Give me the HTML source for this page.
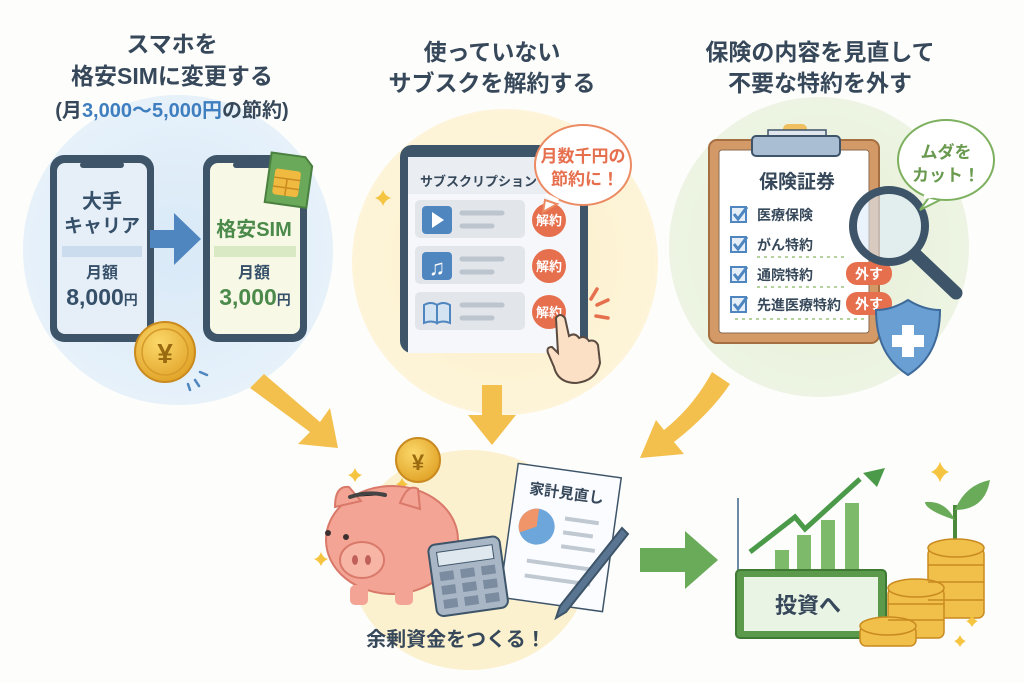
<!DOCTYPE html>
<html><head><meta charset="utf-8"><style>
html,body{margin:0;padding:0;background:#fdfdfb}
svg{display:block}
text{font-family:"Liberation Sans","Noto Sans CJK JP",sans-serif;font-weight:bold}
</style></head><body>
<svg width="1024" height="683" viewBox="0 0 1024 683" xmlns="http://www.w3.org/2000/svg">
<defs>
<radialGradient id="gb" cx="50%" cy="50%" r="50%"><stop offset="0" stop-color="#d9e9f7"/><stop offset="1" stop-color="#e6f1fa"/></radialGradient>
<radialGradient id="gy" cx="50%" cy="50%" r="50%"><stop offset="0" stop-color="#fcefc8"/><stop offset="1" stop-color="#fdf4d9"/></radialGradient>
<radialGradient id="gg" cx="50%" cy="50%" r="50%"><stop offset="0" stop-color="#e6f0d6"/><stop offset="1" stop-color="#edf4e3"/></radialGradient>
<radialGradient id="coin" cx="40%" cy="35%" r="65%"><stop offset="0" stop-color="#fbd86a"/><stop offset="1" stop-color="#e2a52a"/></radialGradient>
</defs>
<rect width="1024" height="683" fill="#fdfdfb"/>
<circle cx="178" cy="250" r="155" fill="url(#gb)"/>
<circle cx="505" cy="262" r="153" fill="url(#gy)"/>
<circle cx="819" cy="247" r="150" fill="url(#gg)"/>
<ellipse cx="470" cy="560" rx="120" ry="110" fill="#fcf1cf"/>

<g fill="#36485a" text-anchor="middle">
<text x="172" y="52" font-size="23">スマホを</text>
<text x="172" y="84" font-size="23">格安SIMに変更する</text>
<text x="172" y="117" font-size="20">(月<tspan fill="#3f7fbf">3,000～5,000</tspan><tspan fill="#3f7fbf">円</tspan>の節約)</text>
<text x="492" y="60" font-size="23">使っていない</text>
<text x="492" y="91" font-size="23">サブスクを解約する</text>
<text x="820" y="60" font-size="23">保険の内容を見直して</text>
<text x="820" y="91" font-size="23">不要な特約を外す</text>
</g>

<rect x="50" y="155" width="104" height="187" rx="14" fill="#3e5569"/>
<rect x="57" y="163" width="90" height="171" rx="8" fill="#e6eff8"/>
<rect x="80" y="162" width="44" height="6" rx="3" fill="#3e5569"/>
<rect x="62" y="246" width="80" height="11" fill="#cadcee"/>
<g fill="#36506a" text-anchor="middle">
<text x="102" y="208" font-size="20">大手</text>
<text x="102" y="232" font-size="19">キャリア</text>
<text x="102" y="278" font-size="16">月額</text>
<text x="102" y="305" font-size="23">8,000<tspan font-size="14">円</tspan></text>
</g>
<rect x="203" y="155" width="104" height="187" rx="14" fill="#3e5569"/>
<rect x="210" y="163" width="90" height="171" rx="8" fill="#f7f9e6"/>
<rect x="233" y="162" width="44" height="6" rx="3" fill="#3e5569"/>
<rect x="214" y="246" width="82" height="11" fill="#d9e9c3"/>
<g fill="#4b8a4b" text-anchor="middle">
<text x="254" y="236" font-size="20">格安SIM</text>
<text x="254" y="278" font-size="16" fill="#36506a">月額</text>
<text x="255" y="305" font-size="23">3,000<tspan font-size="14" fill="#36506a">円</tspan></text>
</g>
<g transform="rotate(8 288 180)">
<path d="M268 155 h34 l8 8 v42 h-42 z" fill="#6aa85a" stroke="#4a8040" stroke-width="2"/>
<rect x="274" y="170" width="26" height="26" rx="3" fill="#f0b940"/>
<path d="M274 179 h26 M274 188 h26 M287 179 v17" stroke="#c98a20" stroke-width="1.5"/>
</g>
<path d="M150 230 h24 v-17 l27 26 l-27 26 v-17 h-24 z" fill="#4f86bf"/>
<circle cx="165" cy="352" r="30" fill="url(#coin)" stroke="#c98a20" stroke-width="2"/>
<circle cx="165" cy="352" r="23" fill="none" stroke="#d69a2a" stroke-width="1.5"/>
<text x="165" y="363" font-size="28" fill="#9a6a10" text-anchor="middle">¥</text>
<path d="M200 372 l7 3 M195 380 l4 6 M188 384 l2 6" stroke="#4f86bf" stroke-width="2.5" stroke-linecap="round"/>

<rect x="400" y="145" width="188" height="208" rx="12" fill="#3e5569"/>
<rect x="408" y="157" width="172" height="196" fill="#f5f7fa"/>
<rect x="408" y="157" width="172" height="37" fill="#eaeef3"/>
<text x="420" y="186" font-size="13" fill="#36485a">サブスクリプション</text>
<g>
<rect x="415" y="200" width="110" height="38" rx="5" fill="#e2e6eb"/>
<rect x="415" y="246" width="110" height="38" rx="5" fill="#e2e6eb"/>
<rect x="415" y="292" width="110" height="38" rx="5" fill="#e2e6eb"/>
<rect x="422" y="206" width="30" height="28" rx="4" fill="#4f86bf"/>
<path d="M432 212 l12 8 l-12 8 z" fill="#fff"/>
<rect x="422" y="252" width="30" height="28" rx="4" fill="#4f86bf"/>
<text x="437" y="275" font-size="22" fill="#fff" text-anchor="middle">♫</text>
<rect x="422" y="298" width="30" height="28" rx="4" fill="#e2e6eb"/>
<path d="M424 305 q7 -4 13 0 v18 q-6 -3 -13 0 z M450 305 q-7 -4 -13 0 v18 q6 -3 13 0 z" fill="#d3e3f2" stroke="#4f86bf" stroke-width="2"/>
<g stroke="#bcc4cd" stroke-width="5" stroke-linecap="round">
<path d="M462 213 h40 M462 226 h30 M462 259 h40 M462 272 h30 M462 305 h40 M462 318 h30"/>
</g>
</g>
<g fill="#e66f4e"><circle cx="549" cy="220" r="17"/><circle cx="549" cy="266" r="17"/><circle cx="549" cy="312" r="17"/></g>
<g fill="#fff" font-size="13" text-anchor="middle"><text x="549" y="225">解約</text><text x="549" y="271">解約</text><text x="549" y="317">解約</text></g>
<path d="M556 318 q4 -6 9 0 l4 18 q6 -4 10 2 q6 -3 10 3 q6 -2 9 4 l2 18 q-4 18 -24 20 q-18 0 -22 -16 l-6 -14 q-2 -6 4 -6 l6 6 z" fill="#fbe0c6" stroke="#5a4a40" stroke-width="2"/>
<g stroke="#e66f4e" stroke-width="3.5" stroke-linecap="round"><path d="M597 289 l-6 10 M608 300 l-11 5 M608 318 l-12 -2"/></g>
<path d="M545 200 l-2 12 l14 -8 z" fill="#fff" stroke="#ec8a62" stroke-width="2"/>
<ellipse cx="583" cy="165" rx="48" ry="40" fill="#fff" stroke="#ec8a62" stroke-width="2"/>
<path d="M546 195 l12 6" stroke="#fff" stroke-width="4"/>
<text x="583" y="162" font-size="17" fill="#e66f4e" text-anchor="middle">月数千円の</text>
<text x="585" y="185" font-size="17" fill="#e66f4e" text-anchor="middle">節約に！</text>
<path d="M383 190 q2 6 8 8 q-6 2 -8 8 q-2 -6 -8 -8 q6 -2 8 -8z" fill="#f5c542"/>

<rect x="709" y="140" width="170" height="203" rx="8" fill="#d39a68" stroke="#a66f42" stroke-width="2"/>
<rect x="719" y="150" width="150" height="183" rx="3" fill="#fff" stroke="#8a6a50" stroke-width="1"/>
<rect x="783" y="124" width="24" height="14" rx="5" fill="#f0c060"/>
<rect x="768" y="130" width="58" height="12" fill="#dfe6ee" stroke="#3e5569" stroke-width="1.5"/>
<rect x="752" y="136" width="88" height="20" rx="4" fill="#a9bdd3" stroke="#3e5569" stroke-width="2"/>
<text x="797" y="188" font-size="19" fill="#36485a" text-anchor="middle">保険証券</text>
<g fill="none" stroke="#4f86bf" stroke-width="2">
<rect x="731" y="207" width="15" height="15" fill="#e6eff8"/><rect x="731" y="237" width="15" height="15" fill="#e6eff8"/>
<rect x="731" y="267" width="15" height="15" fill="#e6eff8"/><rect x="731" y="297" width="15" height="15" fill="#e6eff8"/>
<path d="M734 214 l4 5 l9 -12 M734 244 l4 5 l9 -12 M734 274 l4 5 l9 -12 M734 304 l4 5 l9 -12" stroke-width="3"/>
</g>
<g fill="#36485a" font-size="14">
<text x="757" y="220">医療保険</text><text x="757" y="250">がん特約</text>
<text x="757" y="280">通院特約</text><text x="757" y="310">先進医療特約</text>
</g>
<path d="M757 257 h90 M757 287 h90 M735 319 h130" stroke="#9cc47a" stroke-width="1.5" stroke-dasharray="3 4"/>
<rect x="846" y="262" width="46" height="23" rx="11" fill="#e66f4e"/>
<rect x="846" y="292" width="46" height="23" rx="11" fill="#e66f4e"/>
<text x="869" y="279" font-size="14" fill="#fff" text-anchor="middle">外す</text>
<text x="869" y="309" font-size="14" fill="#fff" text-anchor="middle">外す</text>
<path d="M916 255 l40 38" stroke="#3e5569" stroke-width="13" stroke-linecap="round"/>
<circle cx="889" cy="226" r="36" fill="rgba(220,235,248,0.6)" stroke="#3e5569" stroke-width="8"/>
<path d="M908 300 q16 10 32 10 q0 45 -32 65 q-32 -20 -32 -65 q16 0 32 -10z" fill="#6a9fd4" stroke="#3e6a9a" stroke-width="2"/>
<path d="M902 325 h12 v10 h10 v12 h-10 v10 h-12 v-10 h-10 v-12 h10z" fill="#fff"/>
<path d="M930 196 l-10 14 l20 -10z" fill="#fff" stroke="#7db05f" stroke-width="2"/>
<ellipse cx="946" cy="160" rx="48" ry="40" fill="#fff" stroke="#7db05f" stroke-width="2"/>
<path d="M924 197 l14 -2" stroke="#fff" stroke-width="4"/>
<text x="946" y="158" font-size="17" fill="#6a9a4f" text-anchor="middle">ムダを</text>
<text x="946" y="181" font-size="17" fill="#6a9a4f" text-anchor="middle">カット！</text>

<g fill="#f3c04d">
<path d="M250 388 l14 -14 l56 48 l10 -14 l8 40 l-40 -4 l12 -12 z"/>
<path d="M482 385 h20 v30 h14 l-24 30 l-24 -30 h14 z"/>
<path d="M712 372 l18 12 q-20 30 -56 58 l10 12 l-44 4 l16 -38 l8 10 q30 -24 48 -58z"/>
</g>

<circle cx="418" cy="460" r="22" fill="url(#coin)" stroke="#c98a20" stroke-width="2"/>
<text x="418" y="470" font-size="22" fill="#9a6a10" text-anchor="middle">¥</text>
<path d="M355 468 q2 6 7 7 q-5 2 -7 7 q-2 -5 -7 -7 q5 -1 7 -7z M402 478 q2 5 6 6 q-4 2 -6 6 q-2 -4 -6 -6 q4 -1 6 -6z M321 552 q2 6 7 7 q-5 2 -7 7 q-2 -5 -7 -7 q5 -1 7 -7z M940 462 q3 8 9 10 q-6 2 -9 10 q-3 -8 -9 -10 q6 -2 9 -10z" fill="#f5c542"/>
<ellipse cx="392" cy="540" rx="66" ry="54" fill="#f4a494" stroke="#d9796a" stroke-width="2"/>
<path d="M335 507 q0 -22 14 -20 l12 14z M400 503 q8 -20 18 -14 l2 20z" fill="#f4a494" stroke="#d9796a" stroke-width="2"/>
<rect x="350" y="585" width="18" height="20" rx="5" fill="#f4a494"/><rect x="395" y="585" width="18" height="20" rx="5" fill="#f4a494"/>
<ellipse cx="362" cy="560" rx="22" ry="18" fill="#f7b5a6" stroke="#d9796a" stroke-width="2"/>
<ellipse cx="355" cy="560" rx="3" ry="5" fill="#c0605a"/><ellipse cx="368" cy="560" rx="3" ry="5" fill="#c0605a"/>
<circle cx="328" cy="533" r="3" fill="#3e3030"/><circle cx="346" cy="537" r="3" fill="#3e3030"/>
<path d="M350 497 q18 -6 35 -2" stroke="#444" stroke-width="4" stroke-linecap="round"/>
<g transform="rotate(8 560 540)">
<rect x="508" y="470" width="104" height="135" fill="#fbfcff" stroke="#3e5569" stroke-width="1.5"/>
<text x="560" y="498" font-size="15" fill="#36485a" text-anchor="middle">家計見直し</text>
<circle cx="535" cy="530" r="18" fill="#6da6da"/>
<path d="M535 530 l0 -18 a18 18 0 0 0 -16 26z" fill="#f0956a"/>
<path d="M562 518 h34 M562 532 h30 M562 546 h34 M530 565 h66 M530 580 h66" stroke="#c0c8d2" stroke-width="4"/>
</g>
<g transform="rotate(-8 470 575)">
<rect x="432" y="540" width="72" height="72" rx="7" fill="#a9b6c6" stroke="#3e5569" stroke-width="2"/>
<rect x="440" y="548" width="56" height="14" fill="#dfe7ef" stroke="#3e5569" stroke-width="1"/>
<g fill="#7b8ca0"><rect x="440" y="568" width="14" height="9"/><rect x="461" y="568" width="14" height="9"/><rect x="482" y="568" width="14" height="9"/>
<rect x="440" y="582" width="14" height="9"/><rect x="461" y="582" width="14" height="9"/><rect x="482" y="582" width="14" height="9"/>
<rect x="440" y="596" width="14" height="9"/><rect x="461" y="596" width="14" height="9"/><rect x="482" y="596" width="14" height="9"/></g>
</g>
<path d="M622 528 l-62 78 l-4 12 l10 -6 l62 -78z" fill="#5a7592" stroke="#3e5569" stroke-width="2"/>
<text x="456" y="646" font-size="20" fill="#36485a" text-anchor="middle">余剰資金をつくる！</text>

<path d="M640 548 h45 v-17 l33 29 l-33 29 v-17 h-45z" fill="#6aab5a"/>
<path d="M738 498 v72" stroke="#6a8aa8" stroke-width="2"/>
<g fill="#7dbb6a"><rect x="775" y="550" width="14" height="22"/><rect x="797" y="535" width="14" height="37"/><rect x="821" y="520" width="14" height="52"/><rect x="845" y="503" width="14" height="69"/></g>
<path d="M750 552 l45 -35 l10 12 l55 -50" stroke="#4a9a4a" stroke-width="5" fill="none"/>
<path d="M885 468 l-22 5 l14 14z" fill="#4a9a4a"/>
<rect x="736" y="570" width="150" height="68" rx="4" fill="#5a9a4a" stroke="#3e7a34" stroke-width="2"/>
<rect x="744" y="577" width="134" height="54" fill="#eaf4e4"/>
<text x="808" y="613" font-size="22" fill="#36485a" text-anchor="middle">投資へ</text>
<path d="M955 540 v-35" stroke="#4a8a3a" stroke-width="4"/>
<path d="M955 520 q-30 -10 -30 -18 q20 -2 30 18z M955 510 q10 -25 35 -30 q-5 30 -35 30z" fill="#6aab5a"/>
<g fill="#f0c04a" stroke="#c98a20" stroke-width="1.5">
<rect x="928" y="548" width="56" height="70" rx="6"/><ellipse cx="956" cy="548" rx="28" ry="9"/>
<rect x="888" y="588" width="56" height="50" rx="6"/><ellipse cx="916" cy="588" rx="28" ry="9"/>
<rect x="860" y="626" width="56" height="20" rx="6"/><ellipse cx="888" cy="626" rx="28" ry="9"/>
</g>
<g stroke="#c98a20" stroke-width="1.5"><path d="M928 565 h56 M928 582 h56 M928 600 h56 M888 604 h56 M888 620 h56"/></g>
<path d="M972 615 q2 5 6 6 q-4 2 -6 6 q-2 -4 -6 -6 q4 -1 6 -6z M960 635 q2 5 6 6 q-4 2 -6 6 q-2 -4 -6 -6 q4 -1 6 -6z" fill="#f5c542"/>
</svg>
</body></html>
